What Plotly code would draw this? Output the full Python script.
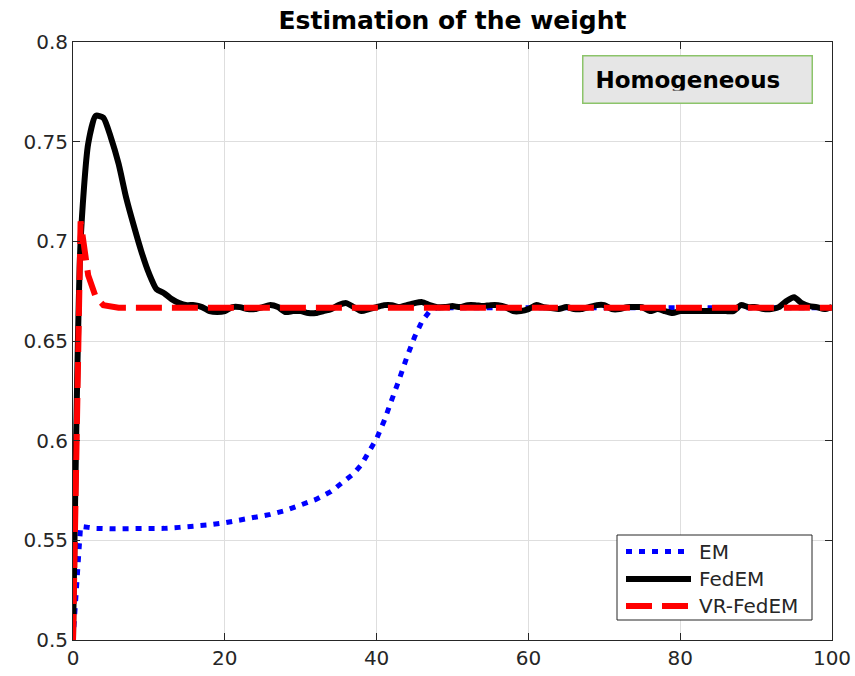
import plotly.graph_objects as go

# ---------------- data ----------------
em_x = [0, 1, 2, 3, 5, 8, 10, 12, 14, 16, 18, 20, 22, 24, 26, 28, 30, 32, 34, 36,
        37, 38, 39, 40, 41, 42, 43, 44, 45, 46, 47, 48, 50, 60, 70, 80, 90, 100]
em_y = [0.500, 0.557, 0.5565, 0.556, 0.5558, 0.5557, 0.5558, 0.556, 0.5565, 0.557,
        0.5578, 0.5588, 0.560, 0.5614, 0.563, 0.565, 0.5675, 0.5705, 0.5745, 0.580,
        0.5835, 0.588, 0.594, 0.601, 0.610, 0.620, 0.631, 0.642, 0.652, 0.660,
        0.665, 0.6667, 0.6667, 0.6667, 0.6667, 0.6667, 0.6667, 0.6667]

fedem_x = list(range(0, 101))
fedem_y = [0.500, 0.700, 0.749, 0.763, 0.762, 0.752, 0.739, 0.722, 0.708, 0.695,
           0.684, 0.676, 0.674, 0.671, 0.669, 0.668, 0.668, 0.667, 0.665, 0.6645,
           0.665, 0.667, 0.667, 0.666, 0.666, 0.667, 0.668, 0.667, 0.6645, 0.665,
           0.665, 0.664, 0.664, 0.665, 0.666, 0.668, 0.669, 0.667, 0.665, 0.666,
           0.667, 0.668, 0.668, 0.667, 0.668, 0.669, 0.6695, 0.668, 0.667, 0.667,
           0.6675, 0.667, 0.668, 0.668, 0.6675, 0.668, 0.668, 0.667, 0.665, 0.665,
           0.666, 0.668, 0.667, 0.6665, 0.666, 0.667, 0.666, 0.666, 0.667, 0.668,
           0.668, 0.666, 0.666, 0.667, 0.667, 0.667, 0.665, 0.666, 0.665, 0.664,
           0.665, 0.665, 0.665, 0.665, 0.665, 0.665, 0.665, 0.665, 0.668, 0.667,
           0.667, 0.666, 0.666, 0.667, 0.670, 0.672, 0.669, 0.6675, 0.667, 0.666,
           0.667]

vr_x = [0, 1, 2, 3, 4, 5, 6, 10, 20, 30, 40, 50, 60, 70, 80, 90, 100]
vr_y = [0.500, 0.710, 0.683, 0.672, 0.668, 0.6672, 0.6667, 0.6667, 0.6667, 0.6667,
        0.6667, 0.6667, 0.6667, 0.6667, 0.6667, 0.6667, 0.6667]

series_names = ["EM", "FedEM", "VR-FedEM"]
x_ticks = [0, 20, 40, 60, 80, 100]
y_ticks = [0.5, 0.55, 0.6, 0.65, 0.7, 0.75, 0.8]
y_ticktext = ["0.5", "0.55", "0.6", "0.65", "0.7", "0.75", "0.8"]

title_text = "Estimation of the weight"
box_text = "Homogeneous"

# ---------------- styles ----------------
FONT = "DejaVu Sans"
AX = "#262626"
GRID = "#dedede"
styles = [
    dict(color="#0000ff", width=5, dash="6px,7px"),
    dict(color="#000000", width=6, dash="solid"),
    dict(color="#ff0000", width=6, dash="26px,10px"),
]

W, H = 855, 676
ML, MR, MT, MB = 73, 23, 42, 36
PW, PH = W - ML - MR, H - MT - MB


def px_x(p):
    return (p - ML) / PW


def px_y(p):
    return (H - MB - p) / PH


fig = go.Figure()
fig.add_trace(go.Scatter(x=em_x, y=em_y, mode="lines", name=series_names[0],
                         line=styles[0]))
fig.add_trace(go.Scatter(x=fedem_x, y=fedem_y, mode="lines", name=series_names[1],
                         line=dict(styles[1], shape="spline", smoothing=0.6)))
fig.add_trace(go.Scatter(x=vr_x, y=vr_y, mode="lines", name=series_names[2],
                         line=styles[2]))

axis_common = dict(
    showline=True, linecolor=AX, linewidth=1, mirror="ticks",
    ticks="inside", ticklen=7, tickcolor=AX, tickwidth=1,
    showgrid=True, gridcolor=GRID, gridwidth=1, zeroline=False,
    automargin=False,
    tickfont=dict(family=FONT, size=20, color=AX),
)

fig.update_layout(
    width=W, height=H,
    margin=dict(l=ML, r=MR, t=MT, b=MB, autoexpand=False),
    paper_bgcolor="white", plot_bgcolor="white",
    title=dict(text="<b>" + title_text + "</b>", x=0.5, xref="paper",
               y=1 - 20 / H, yref="container", yanchor="middle",
               font=dict(family=FONT, size=25, color="black")),
    xaxis=dict(range=[0, 100], tickvals=x_ticks, **axis_common),
    yaxis=dict(range=[0.5, 0.8], tickvals=y_ticks, ticktext=y_ticktext, **axis_common),
    showlegend=False,
)

# "Homogeneous" text box
fig.add_annotation(
    text="<b>" + box_text + "</b>", xref="paper", yref="paper",
    x=px_x(582), xanchor="left", y=px_y(55), yanchor="top",
    showarrow=False, align="left", valign="middle",
    width=204, height=22, borderpad=12, borderwidth=1.5,
    bgcolor="#e6e6e6", bordercolor="#8cc46a",
    font=dict(family=FONT, size=23, color="black"),
)

# MATLAB-style legend box (long line samples)
fig.add_shape(type="rect", xref="paper", yref="paper",
              x0=px_x(617), x1=px_x(812), y0=px_y(620), y1=px_y(535),
              line=dict(color=AX, width=1), fillcolor="white", layer="above")
row_y = [551.5, 579, 606]
for name, st, ry in zip(series_names, styles, row_y):
    fig.add_shape(type="line", xref="paper", yref="paper",
                  x0=px_x(626), x1=px_x(691), y0=px_y(ry), y1=px_y(ry),
                  line=st, layer="above")
    fig.add_annotation(text=name, xref="paper", yref="paper",
                       x=px_x(697), xanchor="left", y=px_y(ry), yanchor="middle",
                       showarrow=False,
                       font=dict(family=FONT, size=20, color=AX))

fig.write_html("out.html")
